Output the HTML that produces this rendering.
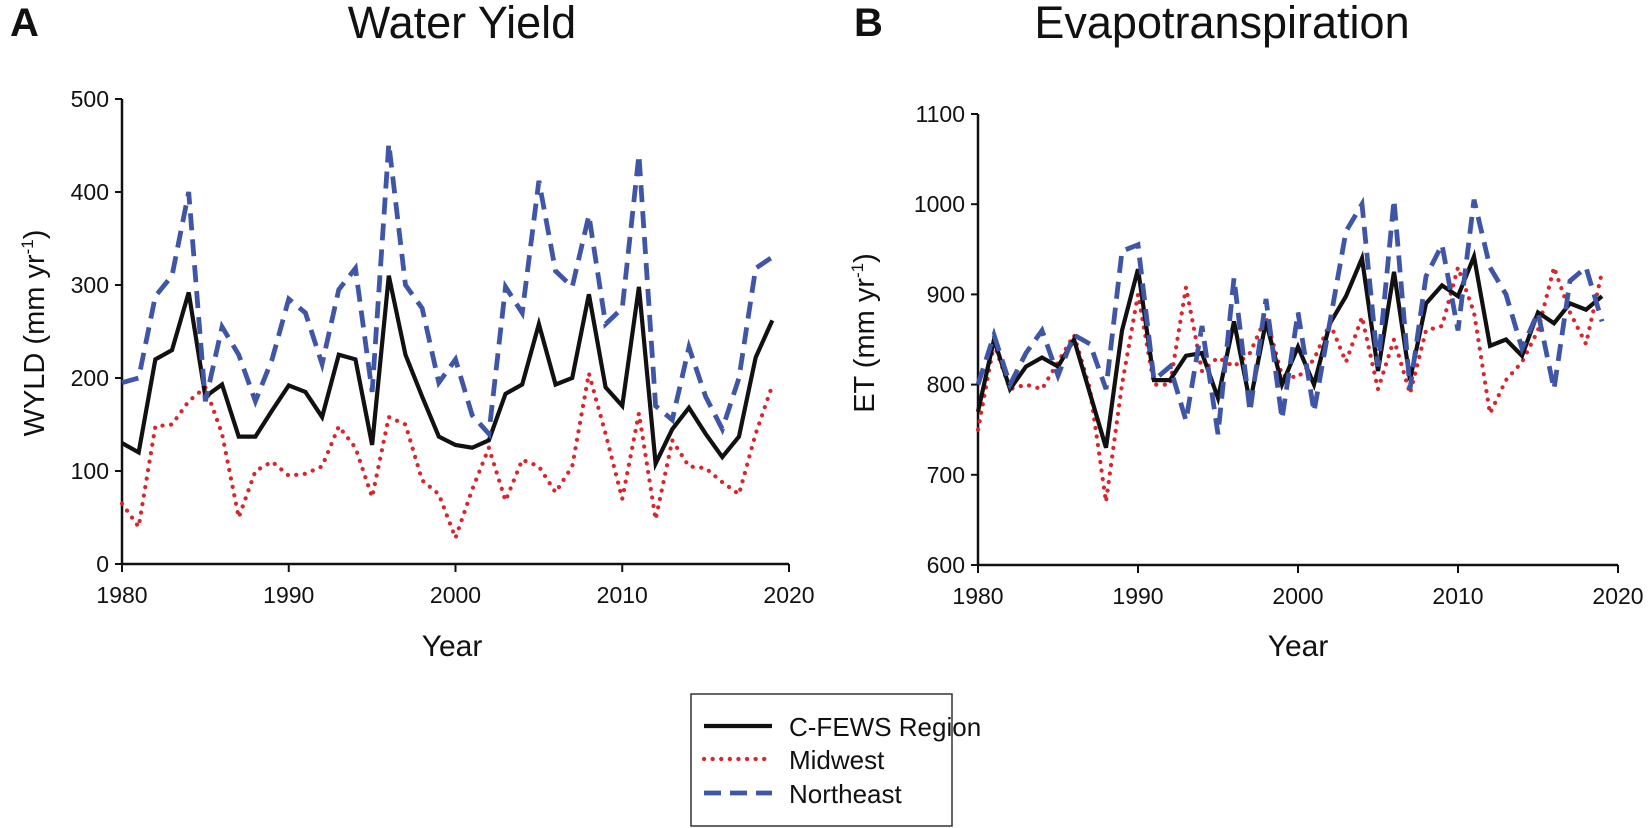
<!DOCTYPE html>
<html><head><meta charset="utf-8"><style>
body{margin:0;background:#fff;font-family:"Liberation Sans",Arial,sans-serif}
svg text{font-family:"Liberation Sans",Arial,sans-serif;fill:#111}
</style></head><body>
<svg id="c" width="1649" height="828" style="position:absolute;left:0;top:0" xmlns="http://www.w3.org/2000/svg"></svg>
<script>
const years=[];for(let y=1980;y<=2019;y++)years.push(y);
const wyldCfews=[130,120,220,230,292,180,193,137,137,165,192,185,158,225,220,128,310,225,180,137,128,125,133,183,193,258,193,200,290,190,170,298,108,145,168,140,115,137,222,262];
const wyldNortheast=[195,200,288,310,400,175,255,225,175,220,285,270,215,295,318,185,452,300,275,195,220,160,140,298,270,412,315,298,375,258,275,440,170,155,233,180,145,200,318,330];
const wyldMidwest=[65,40,148,150,175,190,140,50,100,110,95,97,105,148,125,72,158,150,90,75,28,80,125,68,112,105,77,105,205,140,70,162,48,133,105,103,88,75,140,192];
const etCfews=[770,850,795,820,830,820,850,790,730,860,928,805,805,832,835,785,870,780,870,800,842,800,868,898,940,815,925,805,890,910,898,942,843,850,832,880,868,890,883,898];
const etNortheast=[800,855,800,835,860,810,855,845,795,948,955,805,820,760,865,745,918,770,895,762,880,770,870,970,1000,820,1005,795,920,955,860,1005,930,900,840,880,795,915,930,870];
const etMidwest=[750,845,795,800,795,825,855,795,670,800,900,800,800,908,815,830,820,835,875,810,808,828,868,825,875,795,850,790,860,865,930,880,768,805,825,860,930,880,845,925];
const xTicks=[1980,1990,2000,2010,2020];
const wyldTicks=[0,100,200,300,400,500];
const etTicks=[600,700,800,900,1000,1100];
const NS="http://www.w3.org/2000/svg",svg=document.getElementById('c');
function el(t,a,txt){const e=document.createElementNS(NS,t);for(const k in a)e.setAttribute(k,a[k]);if(txt!==undefined)e.textContent=txt;svg.appendChild(e);return e;}
const styles={cfews:{stroke:'#111',w:4.2,dash:''},midwest:{stroke:'#d7262e',w:4.2,dash:'0.1 8.5'},northeast:{stroke:'#3f56a8',w:4.8,dash:'17 9'}};
function panel(p,key){
 const xs=v=>p.x0+(v-1980)/40*(p.x1-p.x0);
 const ys=v=>p.yb-(v-p.ymin)/(p.ymax-p.ymin)*(p.yb-p.yt);
 let e=el('line',{x1:p.x0,y1:p.yt,x2:p.x0,y2:p.yb,stroke:'#111','stroke-width':2.5});
 
 e=el('line',{x1:p.x0,y1:p.yb,x2:p.x1,y2:p.yb,stroke:'#111','stroke-width':2.5});
 
 p.yticks.forEach(t=>{el('line',{x1:p.x0-7,y1:ys(t),x2:p.x0,y2:ys(t),stroke:'#111','stroke-width':2});
  e=el('text',{x:p.x0-13,y:ys(t)+8,'text-anchor':'end','font-size':23},t);
  });
 xTicks.forEach(t=>{el('line',{x1:xs(t),y1:p.yb,x2:xs(t),y2:p.yb+8,stroke:'#111','stroke-width':2});
  e=el('text',{x:xs(t),y:p.yb+39,'text-anchor':'middle','font-size':23},t);
  });
 [['midwest',p.mw],['cfews',p.cf],['northeast',p.ne]].forEach(([n,d])=>{
  const s=styles[n];
  const pl=el('polyline',{points:d.map((v,i)=>xs(years[i])+','+ys(v)).join(' '),fill:'none',stroke:s.stroke,'stroke-width':s.w,'stroke-dasharray':s.dash,'stroke-linecap':n==='midwest'?'round':'butt','stroke-linejoin':'miter'});
  });
 e=el('text',{x:p.xt,y:656,'text-anchor':'middle','font-size':30},'Year');
 
}
panel({x0:122,x1:789,yt:99,yb:564,ymin:0,ymax:500,yticks:wyldTicks,cf:wyldCfews,ne:wyldNortheast,mw:wyldMidwest,xt:452},'wyld');
panel({x0:978,x1:1618,yt:114,yb:565,ymin:600,ymax:1100,yticks:etTicks,cf:etCfews,ne:etNortheast,mw:etMidwest,xt:1298},'et');
</script>
<svg width="1649" height="828" style="position:absolute;left:0;top:0" xmlns="http://www.w3.org/2000/svg">
<text x="10" y="36" font-size="40" font-weight="bold">A</text>
<text x="462" y="38" font-size="45" text-anchor="middle">Water Yield</text>
<text x="854" y="36" font-size="40" font-weight="bold">B</text>
<text x="1222" y="38" font-size="45" text-anchor="middle">Evapotranspiration</text>
<text transform="translate(44,333) rotate(-90)" font-size="29" text-anchor="middle">WYLD (mm yr<tspan dy="-11" font-size="17">-1</tspan><tspan dy="11">)</tspan></text>
<text transform="translate(874,333) rotate(-90)" font-size="29" text-anchor="middle">ET (mm yr<tspan dy="-11" font-size="17">-1</tspan><tspan dy="11">)</tspan></text>
<g>
<rect x="691" y="694" width="261" height="132" fill="#fff" stroke="#333" stroke-width="1.5"/>
<line x1="704" y1="726" x2="772" y2="726" stroke="#111" stroke-width="4.2"/>
<text x="789" y="736" font-size="26">C-FEWS Region</text>
<line x1="704" y1="759" x2="772" y2="759" stroke="#d7262e" stroke-width="4.2" stroke-dasharray="0.1 8.5" stroke-linecap="round"/>
<text x="789" y="769" font-size="26">Midwest</text>
<line x1="704" y1="793" x2="772" y2="793" stroke="#3f56a8" stroke-width="4.8" stroke-dasharray="17 9"/>
<text x="789" y="803" font-size="26">Northeast</text>
</g>
</svg>
</body></html>
